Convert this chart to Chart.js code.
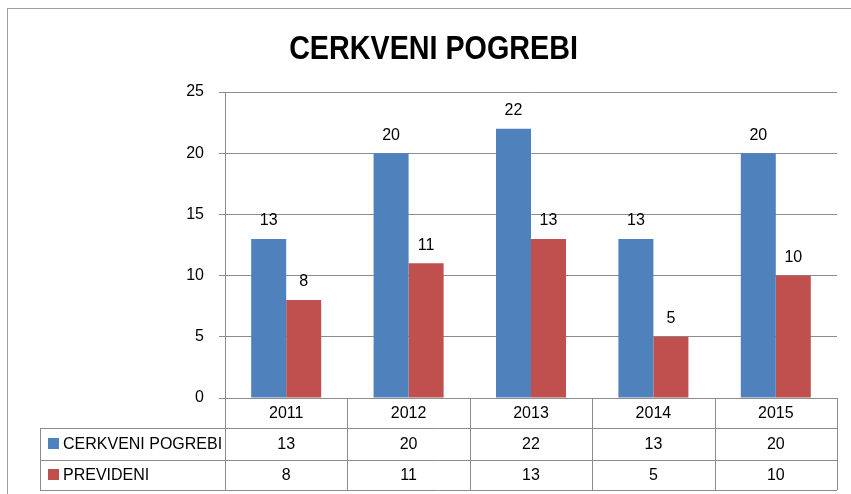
<!DOCTYPE html>
<html>
<head>
<meta charset="utf-8">
<script src="https://cdn.jsdelivr.net/npm/chart.js@4"></script>
<style>
  html,body{margin:0;padding:0;background:#fff;}
  #wrap{width:851px;height:494px;position:relative;}
</style>
</head>
<body>
<div id="wrap"><canvas id="chart" width="851" height="494"></canvas></div>
<script>
const TITLE = "CERKVENI POGREBI";
const years = ["2011","2012","2013","2014","2015"];
const seriesNames = ["CERKVENI POGREBI","PREVIDENI"];
const pogrebi = [13,20,22,13,20];
const prevideni = [8,11,13,5,10];
const yTicks = [0,5,10,15,20,25];

const BLUE = "#4F81BD", RED = "#C0504D";
const LINE = "#8c8c8c";
const FONT = "'Liberation Sans', Arial, sans-serif";

// outer frame of the chart object
const framePlugin = {
  id:"frame",
  beforeDraw(chart){
    const c = chart.ctx;
    c.save();
    c.strokeStyle = "#a0a0a0";
    c.lineWidth = 1;
    c.strokeRect(7.5, 8.5, 900, 600);
    c.restore();
  }
};

// title, drawn narrow like the office original (centred on the frame)
const titlePlugin = {
  id:"narrowTitle",
  afterDraw(chart){
    const c = chart.ctx;
    const cx = chart.width / 2 + 8;
    c.save();
    c.translate(cx, 50);
    c.scale(0.87, 1);
    c.font = "bold 33px " + FONT;
    c.fillStyle = "#000";
    c.textAlign = "center";
    c.textBaseline = "middle";
    c.fillText(TITLE, 0, 0);
    c.restore();
  }
};

// numbers above bars
const labelPlugin = {
  id:"barLabels",
  afterDatasetsDraw(chart){
    const c = chart.ctx;
    c.save();
    c.font = "16px " + FONT;
    c.fillStyle = "#000";
    c.textAlign = "center";
    c.textBaseline = "middle";
    chart.data.datasets.forEach((ds, di)=>{
      chart.getDatasetMeta(di).data.forEach((bar, i)=>{
        c.fillText(String(ds.data[i]), bar.x, bar.y - 18);
      });
    });
    c.restore();
  }
};

// excel style data table under the x axis
const tablePlugin = {
  id:"dataTable",
  afterDraw(chart){
    const c = chart.ctx;
    const x = chart.scales.x;
    const area = chart.chartArea;
    const n = years.length;
    const step = (x.right - x.left) / n;
    const top = area.bottom;
    const rows = [top, top + 30, top + 62, top + 92];
    const leftX = 40;
    c.save();
    c.strokeStyle = LINE;
    c.lineWidth = 1;
    const hl = (x1,x2,y)=>{ c.beginPath(); c.moveTo(x1, Math.round(y)+0.5); c.lineTo(x2, Math.round(y)+0.5); c.stroke(); };
    const vl = (xx,y1,y2)=>{ c.beginPath(); c.moveTo(Math.round(xx)+0.5, y1); c.lineTo(Math.round(xx)+0.5, y2); c.stroke(); };
    hl(leftX, x.right, rows[1]);
    hl(leftX, x.right, rows[2]);
    hl(leftX, x.right, rows[3]);
    vl(leftX, rows[1], rows[3]);
    for(let i=0;i<=n;i++){
      vl(x.left + i*step, top, rows[3]);
    }
    c.font = "16px " + FONT;
    c.fillStyle = "#000";
    c.textAlign = "center";
    c.textBaseline = "middle";
    years.forEach((y,i)=>{
      const cx = x.getPixelForValue(i);
      c.fillText(y, cx, (rows[0]+rows[1])/2 + 1);
      c.fillText(String(pogrebi[i]), cx, (rows[1]+rows[2])/2 + 1);
      c.fillText(String(prevideni[i]), cx, (rows[2]+rows[3])/2 + 1);
    });
    const colors = [BLUE, RED];
    seriesNames.forEach((name, r)=>{
      const cy = (rows[r+1]+rows[r+2])/2;
      c.fillStyle = colors[r];
      c.fillRect(48, cy - 6, 11, 11);
      c.fillStyle = "#000";
      c.textAlign = "left";
      c.fillText(name, 63, cy + 1);
    });
    c.restore();
  }
};

new Chart(document.getElementById("chart"), {
  type:"bar",
  data:{
    labels: years,
    datasets:[
      { label: seriesNames[0], data: pogrebi, backgroundColor: BLUE, borderWidth:0 },
      { label: seriesNames[1], data: prevideni, backgroundColor: RED, borderWidth:0 }
    ]
  },
  options:{
    responsive:false,
    animation:false,
    devicePixelRatio:1,
    layout:{ padding:{ left:0, right:14, top:92, bottom:0 } },
    datasets:{ bar:{ categoryPercentage:0.572, barPercentage:1 } },
    plugins:{
      legend:{ display:false },
      tooltip:{ enabled:false },
      title:{ display:false }
    },
    scales:{
      x:{
        ticks:{ display:false },
        grid:{ display:false, drawOnChartArea:false, drawTicks:false },
        border:{ display:true, color:LINE, width:1 },
        afterFit(s){ s.height = 96; }
      },
      y:{
        min:0, max:25,
        afterBuildTicks(s){ s.ticks = yTicks.map(v=>({ value:v })); },
        ticks:{ color:"#000", padding:15, font:{ family:FONT, size:16 } },
        grid:{ color:LINE, tickLength:6, drawTicks:true },
        border:{ display:true, color:LINE, width:1 },
        afterFit(s){ s.width = 225; }
      }
    }
  },
  plugins:[framePlugin, titlePlugin, labelPlugin, tablePlugin]
});
</script>
</body>
</html>
